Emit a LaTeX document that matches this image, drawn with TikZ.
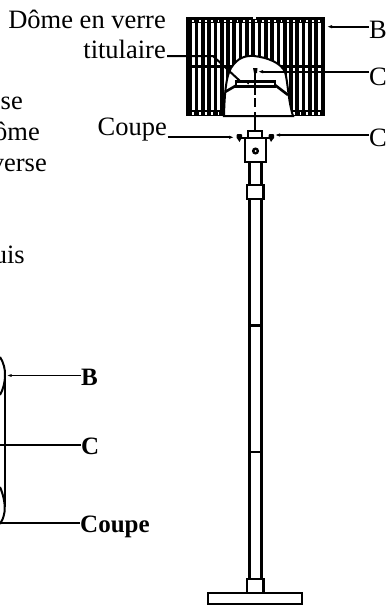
\documentclass[tikz,border=0pt]{standalone}
\usepackage{fontspec}
\setmainfont{Liberation Serif}
\usetikzlibrary{arrows.meta}
\tikzset{
  lbl/.style={inner sep=0pt,font=\fontsize{26.5}{26.5}\selectfont},
  lblb/.style={inner sep=0pt,font=\fontsize{25}{25}\selectfont\bfseries},
  ln/.style={line width=2pt},
  arr/.style={line width=1.9pt,-{Latex[length=5pt,width=3.5pt]}},
  part/.style={line width=2.2pt,fill=white},
}
\begin{document}
\begin{tikzpicture}[x=1pt,y=-1pt]
\useasboundingbox (0,0) rectangle (387,605);
% shade
\fill (186,17) rectangle (325,116);
\foreach \x in {192,198.3,...,322}{
  \fill[white] (\x,23) rectangle (\x+2.6,65);
  \fill[white] (\x,68) rectangle (\x+2.6,110);
  \fill[white] (\x+.4,19.5) rectangle (\x+2.2,21.5);
  \fill[white] (\x+.4,112) rectangle (\x+2.2,114.5);}
\fill[white] (253,17) rectangle (256,18.5);
\fill[white,draw=black,line width=2pt] (224,116) .. controls (224.5,95) and (226,76) .. (231,68) .. controls (238,57) and (246,55.5) .. (254,56) .. controls (268,57.5) and (281,63) .. (285,72) .. controls (288,82) and (288,100) .. (293,116) -- cycle;
% inner
\draw[line width=2.6pt] (225,92) -- (237,85);
\draw[line width=2.6pt] (275,85) -- (288,95);
\draw[part] (236,81.5) rectangle (275,86.5);
\fill (248,83.5) circle (1pt);
\draw[line width=1.9pt] (255,72) -- (255,95);
\draw[line width=1.9pt] (255,98) -- (255,107);
\draw[line width=1.9pt] (255,112) -- (255,130);
\fill (253,68) -- (257.5,68) -- (257,73) -- (254,73) -- cycle;
% head
\draw[part] (248,131) rectangle (262,138);
\draw[line width=2pt] (238,137.5) -- (272,137.5);
\fill[rounded corners=1pt] (236.5,134) rectangle (242,139) (268.5,134) rectangle (274,139);
\fill (237.5,139) -- (241,139) -- (239.5,142) -- cycle (269.5,139) -- (273,139) -- (271,142) -- cycle;
\draw[part] (245,138) rectangle (266,162);
\fill (255.5,151) circle (3.6pt);
\fill[white] (255.5,151) circle (1pt);
% pole
\draw[line width=2.2pt] (249.5,162) -- (249.5,579) (261.5,162) -- (261.5,579);
\draw[part] (247,185) rectangle (263.5,199);
\draw[line width=2.2pt] (249.5,325.5) -- (261.5,325.5) (249.5,452) -- (261.5,452);
\draw[part] (247,579) rectangle (263.5,593);
\draw[part] (208,593) rectangle (302,604);
% left
\draw[ln] (0,357) .. controls (3.5,362) and (5.5,370) .. (5,376) .. controls (5,382) and (3,390) .. (0,395);
\draw[ln] (5,376) -- (5,507);
\draw[ln] (0,487) .. controls (3.5,495) and (5.5,505) .. (4.5,512) .. controls (3.5,518) and (2,521) .. (0,524);
% texts
\node[lbl,anchor=base east] (dome) at (166,28) {Dôme en verre};
\node[lbl,anchor=base east] (tit) at (166,58) {titulaire};
\node[lbl,anchor=base east] (cou) at (167,135) {Coupe};
\node[lbl,anchor=base west] (b) at (369,38) {B};
\node[lbl,anchor=base west] (c1) at (369,85) {C};
\node[lbl,anchor=base west] (c2) at (369,146) {C};
\node[lbl,anchor=base east] at (23,109) {se};
\node[lbl,anchor=base east] at (40,140) {ôme};
\node[lbl,anchor=base east] at (47,171) {verse};
\node[lbl,anchor=base east] at (25,263) {uis};
\node[lblb,anchor=base west] (lb) at (81,385) {B};
\node[lblb,anchor=base west] (lc) at (81,454) {C};
\node[lblb,anchor=base west] (lcou) at (80,532) {Coupe};
\coordinate (a1) at (327,26.7); \coordinate (a2) at (258,71.7); \coordinate (a3) at (275,135);
\coordinate (a4) at (234,137.3); \coordinate (a0) at (167.5,137.3); \coordinate (a5) at (240,81);
\coordinate (t0) at (167,56); \coordinate (t1) at (213,56);
\coordinate (a6) at (6.5,375.5);
\coordinate (a7) at (0,445); \coordinate (a8) at (0,523);
\draw[arr] (b.west |- a1) -- (a1);
\draw[arr] (c1.west |- a2) -- (a2);
\draw[arr] (c2.west |- a3) -- (a3);
\draw[arr] (a0) -- (a4);
\draw[ln] (t0) -- (t1) -- (a5);
\draw[line width=1.2pt,-{Latex[length=5pt,width=3pt]}] (lb.west |- a6) -- (a6);
\draw[ln] (lc.west |- a7) -- (a7);
\draw[ln] (lcou.west |- a8) -- (a8);
\end{tikzpicture}
\end{document}
